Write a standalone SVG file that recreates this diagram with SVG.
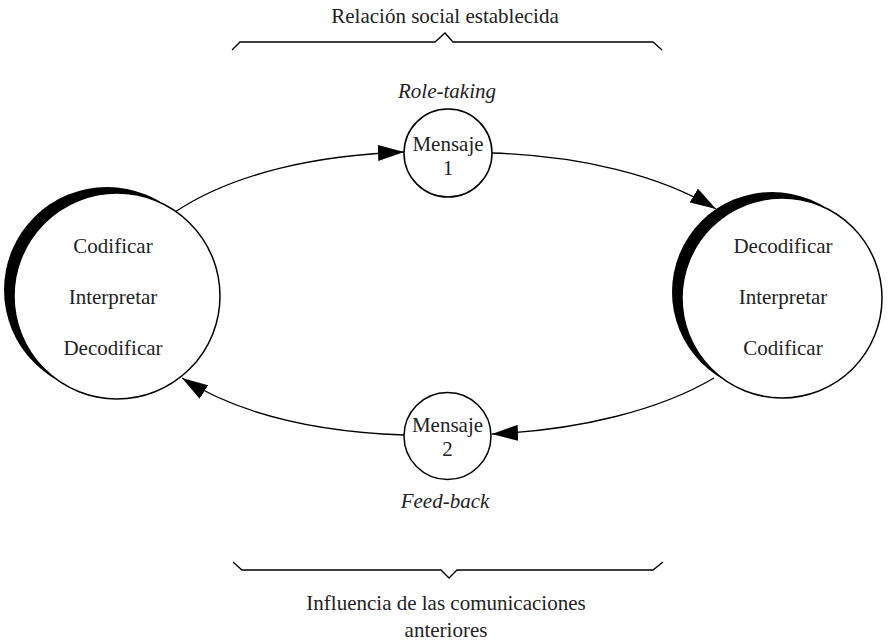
<svg xmlns="http://www.w3.org/2000/svg" width="889" height="643" viewBox="0 0 889 643">
<style>
text{font-family:"Liberation Serif",Tinos,"Noto Serif","DejaVu Serif",FreeSerif,"Times New Roman",Times,serif;font-size:21px;fill:#222;text-anchor:middle}
.it{font-style:italic}
.node{fill:#fff;stroke:#000;stroke-width:1.5}
.shadow{fill:#000}
.conn{fill:none;stroke:#000;stroke-width:1.3}
.brace{fill:none;stroke:#000;stroke-width:1.3}
</style>
<defs>
<marker id="ah" viewBox="0 0 26 16" refX="26" refY="8" markerWidth="26" markerHeight="16" markerUnits="userSpaceOnUse" orient="auto">
<path d="M0,0 L26,8 L0,16 z" fill="#000"/>
</marker>
</defs>
<g id="top-label">
<text x="445" y="23">Relación social establecida</text>
<path class="brace" d="M232,50 L240,42 L435,42 L445,33 L453,42 L653,42 L662,50"/>
</g>
<g id="bottom-label">
<path class="brace" d="M233,562 L242,570 L441,570 L449,578 L457,570 L653,570 L663,562"/>
<text x="446" y="610">Influencia de las comunicaciones</text>
<text x="446" y="637">anteriores</text>
</g>
<g id="connectors">
<path class="conn" d="M175,212 C235,172 320,155 404,152" marker-end="url(#ah)"/>
<path class="conn" d="M492,153 C580,156 660,175 716,209" marker-end="url(#ah)"/>
<path class="conn" d="M714,378 C660,410 580,430 492,434" marker-end="url(#ah)"/>
<path class="conn" d="M404,435 C320,432 240,415 182,378" marker-end="url(#ah)"/>
</g>
<g id="emisor">
<circle class="shadow" cx="107" cy="290" r="103"/>
<circle class="node" cx="117" cy="296" r="103"/>
<text x="113" y="253">Codificar</text>
<text x="113" y="304">Interpretar</text>
<text x="113" y="355">Decodificar</text>
</g>
<g id="receptor">
<circle class="shadow" cx="772" cy="292" r="100"/>
<circle class="node" cx="782" cy="298" r="100"/>
<text x="783" y="253">Decodificar</text>
<text x="783" y="304">Interpretar</text>
<text x="783" y="355">Codificar</text>
</g>
<g id="mensaje1">
<text class="it" x="447" y="98">Role-taking</text>
<circle class="node" cx="448" cy="153" r="44"/>
<text x="448" y="151">Mensaje</text>
<text x="448" y="175">1</text>
</g>
<g id="mensaje2">
<circle class="node" cx="447.5" cy="436" r="43.5"/>
<text x="447.5" y="432">Mensaje</text>
<text x="447.5" y="456">2</text>
<text class="it" x="445" y="508">Feed-back</text>
</g>
</svg>
